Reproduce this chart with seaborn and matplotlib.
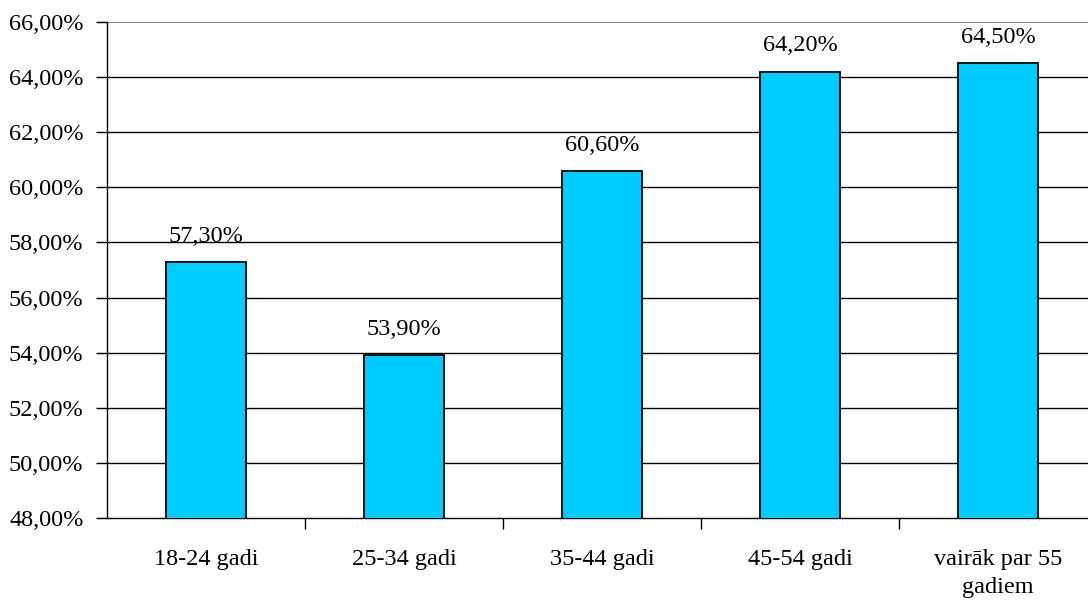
import matplotlib
matplotlib.use("Agg")
import matplotlib.pyplot as plt
import matplotlib.ticker as mticker
import seaborn as sns
import pandas as pd

categories = ["18-24 gadi", "25-34 gadi", "35-44 gadi", "45-54 gadi", "vairāk par 55\ngadiem"]
values = [57.3, 53.9, 60.6, 64.2, 64.5]
y_ticks = [48, 50, 52, 54, 56, 58, 60, 62, 64, 66]

df = pd.DataFrame({"grupa": categories, "vertiba": values})

sns.set_style("white")
plt.rcParams["font.family"] = ["Liberation Serif", "DejaVu Serif"]
plt.rcParams["text.color"] = "black"
plt.rcParams["xtick.color"] = "black"
plt.rcParams["ytick.color"] = "black"

fig = plt.figure(figsize=(10.88, 6.02), dpi=100)
ax = fig.add_axes([107 / 1088, 84 / 602, 990 / 1088, 496 / 602])

sns.barplot(data=df, x="grupa", y="vertiba", color="#00CCFF", width=0.4,
            edgecolor="black", linewidth=1.3, saturation=1, ax=ax, zorder=3)

ax.set_ylim(48, 66)
ax.set_xlim(-0.5, len(categories) - 0.5)
ax.set_yticks(y_ticks)
ax.yaxis.set_major_formatter(mticker.FuncFormatter(lambda v, p: f"{v:.2f}%".replace(".", ",")))
for t in y_ticks[1:-1]:
    ax.axhline(t, color="black", linewidth=1, zorder=1)
ax.axhline(66, color="#888888", linewidth=1.5, zorder=1)

# category boundary ticks
ax.set_xticks(range(len(categories)))
ax.set_xticklabels(categories, linespacing=1.45)
ax.set_xticks([i + 0.5 for i in range(len(categories) - 1)], minor=True)
ax.tick_params(axis="x", which="minor", length=8, width=1, direction="out", color="black", bottom=True)
ax.tick_params(axis="x", which="major", length=0, labelsize=17.5, pad=22)
ax.tick_params(axis="y", length=8, width=1, direction="out", color="black", left=True, labelsize=17.5, pad=9)
ax.set_xlabel("")
ax.set_ylabel("")

for s in ["top", "right"]:
    ax.spines[s].set_visible(False)
for s in ["left", "bottom"]:
    ax.spines[s].set_color("black")
    ax.spines[s].set_linewidth(1)

for i, v in enumerate(values):
    ax.text(i, v + 0.55, f"{v:.2f}%".replace(".", ","), ha="center", va="bottom", fontsize=17.5)

fig.savefig("out.png", dpi=100)
